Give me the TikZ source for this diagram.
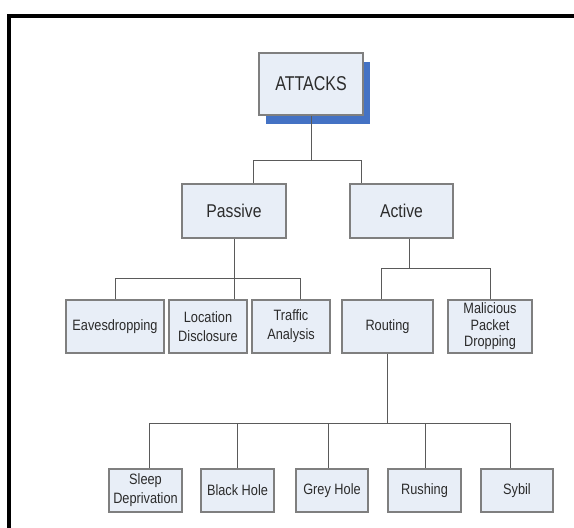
\documentclass[tikz,border=0pt]{standalone}
\usepackage{fontspec}
\setmainfont[FakeStretch=0.85]{Liberation Sans}
\newfontfamily\titlefont[FakeStretch=0.8]{Liberation Sans}
\usetikzlibrary{shadows}
\definecolor{boxfill}{HTML}{E8EEF7}
\definecolor{boxline}{HTML}{7F7F7F}
\definecolor{connline}{HTML}{5A5A5A}
\definecolor{txt}{HTML}{2B2B2B}
\definecolor{shadowblue}{HTML}{4472C4}
\tikzset{
  box/.style={draw=boxline, line width=1.2pt, fill=boxfill, text=txt, align=center,
    inner sep=0pt, anchor=center},
  smalltext/.style={font=\fontsize{15}{19}\selectfont},
  midtext/.style={font=\fontsize{18.5}{22}\selectfont},
  conn/.style={draw=connline, line width=1pt},
}
\begin{document}
\begin{tikzpicture}[x=1pt,y=-1pt]
\useasboundingbox (0,0) rectangle (574,528);
\draw[line width=4pt] (9,528) -- (9,16) -- (574,16);

% top
\node[box, font=\titlefont\fontsize{20}{24}\selectfont, minimum width=104pt, minimum height=62pt,
  drop shadow={shadow xshift=7pt, shadow yshift=-9pt, fill=shadowblue, opacity=1, draw=none}]
  (attacks) at (311,84) {ATTACKS};

% level 1
\node[box, midtext, minimum width=104pt, minimum height=54pt] (passive) at (234,211) {Passive};
\node[box, midtext, minimum width=103pt, minimum height=54pt] (active) at (401.5,211) {Active};

% level 2
\node[box, smalltext, minimum width=98pt, minimum height=53pt] (eaves) at (115,326.5) {Eavesdropping};
\node[box, smalltext, minimum width=78pt, minimum height=53pt] (location) at (208,326.5) {Location\\Disclosure};
\node[box, smalltext, minimum width=78pt, minimum height=53pt] (traffic) at (291,326.5) {Traffic\\Analysis};
\node[box, smalltext, minimum width=91pt, minimum height=53pt] (routing) at (387.5,326.5) {Routing};
\node[box, font=\fontsize{15}{16.5}\selectfont, minimum width=84pt, minimum height=53pt] (malicious) at (490,326.5) {Malicious\\Packet\\Dropping};

% level 3
\node[box, smalltext, minimum width=73pt, minimum height=43pt] (sleep) at (145.5,490.5) {Sleep\\Deprivation};
\node[box, smalltext, minimum width=73pt, minimum height=43pt] (black) at (237.5,490.5) {Black Hole};
\node[box, smalltext, minimum width=72pt, minimum height=43pt] (grey) at (332,490.5) {Grey Hole};
\node[box, smalltext, minimum width=73pt, minimum height=43pt] (rushing) at (424.5,490.5) {Rushing};
\node[box, smalltext, minimum width=72pt, minimum height=43pt] (sybil) at (517,490.5) {Sybil};

% connectors: attacks
\coordinate (j1) at (311,160);
\coordinate (p1) at (253,160);
\coordinate (a1) at (361,160);
\draw[conn] (attacks.south) -- (j1);
\draw[conn] (p1 |- passive.north) -- (p1) -- (a1) -- (a1 |- active.north);

% passive
\coordinate (e2) at (115,278);
\coordinate (t2) at (300,278);
\draw[conn] (passive.south) -- (passive.south |- location.north);
\draw[conn] (eaves.north) -- (e2) -- (t2) -- (t2 |- traffic.north);

% active
\coordinate (j3) at (409,268);
\coordinate (r3) at (381,268);
\coordinate (m3) at (490,268);
\draw[conn] (j3 |- active.south) -- (j3);
\draw[conn] (r3 |- routing.north) -- (r3) -- (m3) -- (malicious.north);

% routing
\coordinate (j4) at (387.5,423);
\coordinate (s4) at (149,423);
\coordinate (g4) at (328,423);
\coordinate (u4) at (425,423);
\coordinate (y4) at (510,423);
\draw[conn] (routing.south) -- (j4);
\draw[conn] (s4 |- sleep.north) -- (s4) -- (y4) -- (y4 |- sybil.north);
\draw[conn] (black.north) -- (black.north |- j4);
\draw[conn] (g4) -- (g4 |- grey.north);
\draw[conn] (u4) -- (u4 |- rushing.north);
\end{tikzpicture}
\end{document}
